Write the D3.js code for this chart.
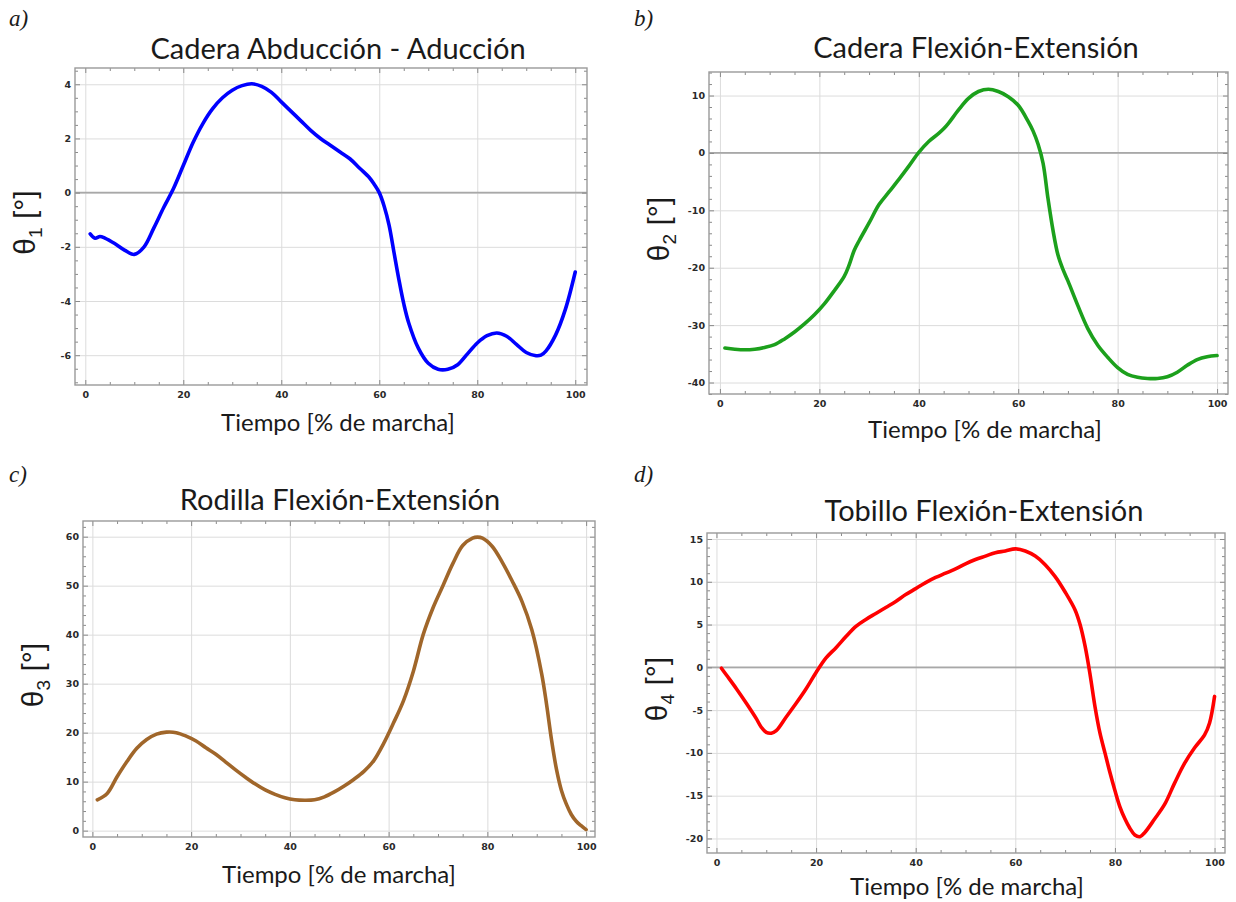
<!DOCTYPE html>
<html lang="es">
<head>
  <meta charset="UTF-8" />
  <title>Ángulos articulares durante la marcha</title>
  <script src="https://cdn.jsdelivr.net/npm/d3@7"></script>
  <style>
    body {
      margin: 0;
      background: #fff;
    }
    svg text {
      fill: #1a1a1a;
    }
    .tick line {
      stroke: #8a8a8a;
    }
    .domain {
      display: none;
    }
    .grid line {
      stroke: #dcdcdc;
      stroke-width: 1;
    }
    .title, .xlabel {
      font-family: Lato, "Open Sans", sans-serif;
    }
    .ylabel {
      font-family: "Liberation Sans", Arial, sans-serif;
    }
    .letter {
      font-family: "Liberation Serif", "Times New Roman", serif;
      font-style: italic;
    }
  </style>
</head>
<body>
  <div id="chart"></div>

  <script>
    // values (x = % of gait cycle)
    const xTicks = [0, 20, 40, 60, 80, 100];

    const hipAbdX = [1, 2, 3, 4, 6, 8, 10, 12, 14, 16, 18, 20, 22, 24, 26, 28, 30, 32, 34, 36, 38, 40, 42, 44, 46, 48, 50,
      52, 54, 56, 58, 59, 60, 61, 62, 63, 64, 65, 66, 68, 70, 72, 74, 76, 78, 80, 82, 84, 86, 88, 90, 92, 93, 94, 96, 98, 100];
    const hipAbdY = [-1.52, -1.68, -1.62, -1.68, -1.88, -2.12, -2.28, -2.0, -1.3, -0.55, 0.15, 1.0, 1.85, 2.55, 3.1, 3.5,
      3.78, 3.95, 4.02, 3.92, 3.7, 3.35, 3.0, 2.65, 2.3, 2.0, 1.75, 1.5, 1.25, 0.9, 0.55, 0.3, 0.0, -0.5, -1.2, -2.2, -3.2,
      -4.1, -4.8, -5.75, -6.3, -6.52, -6.52, -6.35, -5.95, -5.55, -5.28, -5.18, -5.3, -5.6, -5.9, -6.02, -6.0, -5.85,
      -5.25, -4.3, -2.93];
    const hipAbdTicks = [-6, -4, -2, 0, 2, 4];

    const hipFlexX = [1, 3, 5, 7, 9, 11, 13, 15, 17, 19, 21, 23, 25, 26, 27, 28, 30, 32, 34, 36, 38, 40, 42, 44, 45, 46, 48,
      50, 52, 54, 56, 58, 60, 62, 63, 64, 65, 66, 67, 68, 69, 70, 72, 74, 76, 78, 80, 82, 84, 86, 88, 90, 92, 94, 96, 98, 100];
    const hipFlexY = [-34.0, -34.2, -34.3, -34.2, -33.9, -33.4, -32.4, -31.2, -29.8, -28.2, -26.3, -24.0, -21.5, -19.5,
      -17.0, -15.3, -12.2, -9.0, -6.8, -4.6, -2.3, 0.1, 2.0, 3.4, 4.2, 5.2, 7.5, 9.5, 10.7, 11.1, 10.7, 9.8, 8.3, 5.5,
      3.8, 1.5, -1.8, -8.0, -13.5, -17.8, -20.3, -22.3, -26.6, -30.6, -33.5, -35.6, -37.4, -38.6, -39.1, -39.3, -39.3,
      -39.0, -38.2, -37.0, -36.0, -35.5, -35.3];
    const hipFlexTicks = [-40, -30, -20, -10, 0, 10];

    const kneeX = [1, 3, 5, 7, 9, 11, 13, 15, 17, 19, 21, 23, 25, 27, 29, 31, 33, 35, 37, 39, 41, 43, 45, 47, 49, 51, 53,
      55, 57, 59, 61, 63, 65, 67, 69, 71, 73, 75, 77, 78, 79, 81, 83, 85, 87, 89, 91, 92, 93, 94, 95, 96, 97, 98, 99, 100];
    const kneeY = [6.3, 7.6, 11.0, 14.1, 16.8, 18.6, 19.7, 20.1, 20.0, 19.3, 18.3, 16.9, 15.6, 14.0, 12.4, 10.9, 9.5, 8.3,
      7.4, 6.7, 6.3, 6.2, 6.3, 6.9, 7.9, 9.1, 10.5, 12.1, 14.3, 17.8, 22.0, 26.5, 32.5, 40.0, 45.5, 50.0, 54.5, 58.2,
      59.7, 59.9, 59.7, 58.0, 54.8, 51.0, 46.8, 41.0, 32.0, 25.7, 18.5, 12.5, 8.2, 5.4, 3.3, 1.9, 1.0, 0.2];
    const kneeTicks = [0, 10, 20, 30, 40, 50, 60];

    const ankleX = [1, 2, 4, 6, 8, 9, 10, 11, 12, 14, 16, 18, 20, 22, 24, 26, 28, 30, 32, 34, 36, 38, 40, 42, 44, 46, 48,
      50, 52, 54, 56, 58, 60, 62, 64, 66, 68, 70, 72, 73, 74, 75, 76, 77, 78, 79, 80, 81, 82, 83, 84, 85, 86, 88, 90, 92,
      94, 96, 98, 99, 100];
    const ankleY = [-0.1, -0.9, -2.5, -4.2, -6.0, -7.0, -7.6, -7.7, -7.4, -5.8, -4.2, -2.5, -0.6, 1.1, 2.3, 3.6, 4.8, 5.6,
      6.3, 7.0, 7.7, 8.5, 9.2, 9.9, 10.5, 11.0, 11.5, 12.1, 12.6, 13.0, 13.4, 13.6, 13.85, 13.6, 13.0, 12.0, 10.6, 8.8,
      6.7, 5.0, 2.5, -0.8, -4.6, -7.7, -10.0, -12.3, -14.4, -16.3, -17.7, -18.8, -19.6, -19.8, -19.3, -17.7, -16.0,
      -13.5, -11.2, -9.4, -7.9, -6.5, -3.4];
    const ankleTicks = [-20, -15, -10, -5, 0, 5, 10, 15];

    const width = 1236;
    const height = 902;

    const svg = d3.select("#chart")
      .append("svg")
      .attr("width", width)
      .attr("height", height);

    // frame boxes and ranges of each panel
    const panels = [
      {
        letter: "a)", title: "Cadera Abducción - Aducción", sub: "1", color: "#0000ff",
        xs: hipAbdX, ys: hipAbdY, yTicks: hipAbdTicks, yMinor: 0.5, zeroAxis: true,
        box: [75, 68, 587, 385], xDom: [-2.1, 102.4], yDom: [-7.1, 4.6],
        letterPos: [9, 26], titlePos: [338, 59], xlabPos: [338, 431]
      },
      {
        letter: "b)", title: "Cadera Flexión-Extensión", sub: "2", color: "#1ca01c",
        xs: hipFlexX, ys: hipFlexY, yTicks: hipFlexTicks, yMinor: 2, zeroAxis: true,
        box: [709, 72, 1228, 394], xDom: [-2.2, 102.2], yDom: [-42.0, 14.1],
        letterPos: [634, 26], titlePos: [976, 58], xlabPos: [985, 438]
      },
      {
        letter: "c)", title: "Rodilla Flexión-Extensión", sub: "3", color: "#a0662a",
        xs: kneeX, ys: kneeY, yTicks: kneeTicks, yMinor: 2, zeroAxis: false,
        box: [83, 521, 595, 837], xDom: [-1.9, 101.8], yDom: [-1.3, 63.2],
        letterPos: [9, 482], titlePos: [340, 510], xlabPos: [339, 883]
      },
      {
        letter: "d)", title: "Tobillo Flexión-Extensión", sub: "4", color: "#ff0000",
        xs: ankleX, ys: ankleY, yTicks: ankleTicks, yMinor: 1, zeroAxis: true,
        box: [707, 533, 1225, 853], xDom: [-1.9, 102.1], yDom: [-21.7, 15.7],
        letterPos: [634, 482], titlePos: [984, 521], xlabPos: [967, 895]
      }
    ];

    const fmt = d => String(d);

    function styleLabels(sel) {
      sel.selectAll(".tick text")
        .attr("font-family", "'DejaVu Sans', sans-serif")
        .attr("font-weight", 700)
        .attr("font-size", 9.5)
        .style("fill", "#2a2a2a");
    }

    panels.forEach(p => {
      const [x0, y0, x1, y1] = p.box;
      const w = x1 - x0;
      const h = y1 - y0;

      const x = d3.scaleLinear().domain(p.xDom).range([x0, x1]);
      const y = d3.scaleLinear().domain(p.yDom).range([y1, y0]);

      const xMinor = d3.range(0, 100.01, 5).filter(v => !xTicks.includes(v));
      const yMinor = d3.range(p.yTicks[0] - p.yMinor * 4, p.yTicks[p.yTicks.length - 1] + p.yMinor * 4 + 0.001, p.yMinor)
        .filter(v => v >= p.yDom[0] && v <= p.yDom[1])
        .filter(v => !p.yTicks.some(t => Math.abs(t - v) < 1e-6));

      const g = svg.append("g");

      // grid
      g.append("g")
        .attr("class", "grid")
        .attr("transform", `translate(0,${y1})`)
        .call(d3.axisBottom(x).tickValues(xTicks).tickSize(-h).tickFormat(""));
      g.append("g")
        .attr("class", "grid")
        .attr("transform", `translate(${x0},0)`)
        .call(d3.axisLeft(y).tickValues(p.yTicks).tickSize(-w).tickFormat(""));

      // zero line
      if (p.zeroAxis) {
        g.append("line")
          .attr("x1", x0).attr("x2", x1)
          .attr("y1", y(0)).attr("y2", y(0))
          .attr("stroke", "#a8a8a8")
          .attr("stroke-width", 1.8);
      }

      // frame ticks, pointing inward
      g.append("g")
        .attr("transform", `translate(0,${y1})`)
        .call(d3.axisBottom(x).tickValues(xTicks).tickSize(-5).tickPadding(6).tickFormat(fmt))
        .call(styleLabels);
      g.append("g")
        .attr("transform", `translate(0,${y1})`)
        .call(d3.axisBottom(x).tickValues(xMinor).tickSize(-3).tickFormat(""));
      g.append("g")
        .attr("transform", `translate(0,${y0})`)
        .call(d3.axisTop(x).tickValues(xTicks).tickSize(-5).tickFormat(""));
      g.append("g")
        .attr("transform", `translate(0,${y0})`)
        .call(d3.axisTop(x).tickValues(xMinor).tickSize(-3).tickFormat(""));

      g.append("g")
        .attr("transform", `translate(${x0},0)`)
        .call(d3.axisLeft(y).tickValues(p.yTicks).tickSize(-5).tickPadding(4).tickFormat(fmt))
        .call(styleLabels);
      g.append("g")
        .attr("transform", `translate(${x0},0)`)
        .call(d3.axisLeft(y).tickValues(yMinor).tickSize(-3).tickFormat(""));
      g.append("g")
        .attr("transform", `translate(${x1},0)`)
        .call(d3.axisRight(y).tickValues(p.yTicks).tickSize(-5).tickFormat(""));
      g.append("g")
        .attr("transform", `translate(${x1},0)`)
        .call(d3.axisRight(y).tickValues(yMinor).tickSize(-3).tickFormat(""));

      // frame
      g.append("rect")
        .attr("x", x0).attr("y", y0)
        .attr("width", w).attr("height", h)
        .attr("fill", "none")
        .attr("stroke", "#9a9a9a")
        .attr("stroke-width", 1.4);

      // curve
      const pts = p.xs.map((v, i) => [v, p.ys[i]]);
      g.append("path")
        .datum(pts)
        .attr("fill", "none")
        .attr("stroke", p.color)
        .attr("stroke-width", 3.6)
        .attr("stroke-linejoin", "round")
        .attr("stroke-linecap", "round")
        .attr("d", d3.line()
          .x(d => x(d[0]))
          .y(d => y(d[1]))
          .curve(d3.curveCatmullRom.alpha(0.5)));

      // texts
      g.append("text")
        .attr("class", "letter")
        .attr("x", p.letterPos[0]).attr("y", p.letterPos[1])
        .attr("font-size", 23)
        .text(p.letter);

      g.append("text")
        .attr("class", "title")
        .attr("x", p.titlePos[0]).attr("y", p.titlePos[1])
        .attr("text-anchor", "middle")
        .attr("font-size", 29)
        .text(p.title);

      g.append("text")
        .attr("class", "xlabel")
        .attr("x", p.xlabPos[0]).attr("y", p.xlabPos[1])
        .attr("text-anchor", "middle")
        .attr("font-size", 24)
        .text("Tiempo [% de marcha]");

      const yl = g.append("text")
        .attr("class", "ylabel")
        .attr("transform", `translate(${x0 - 40},${(y0 + y1) / 2 - 4}) rotate(-90)`)
        .attr("text-anchor", "middle")
        .attr("font-size", 30);
      yl.append("tspan").text("θ");
      yl.append("tspan").attr("font-size", 19).attr("dy", 7).text(p.sub);
      yl.append("tspan").attr("dy", -7).text(" [°]");
    });
  </script>
</body>
</html>
